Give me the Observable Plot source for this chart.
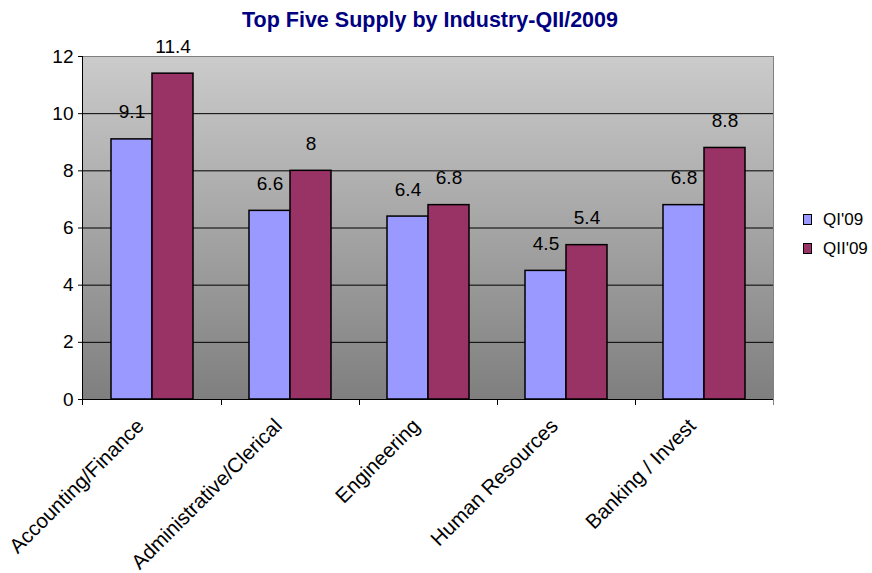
<!DOCTYPE html>
<html><head><meta charset="utf-8">
<script src="https://cdn.jsdelivr.net/npm/d3@7"></script>
<script src="https://cdn.jsdelivr.net/npm/@observablehq/plot@0.6"></script>
<style>
body{margin:0;background:#fff;font-family:"Liberation Sans",Arial,sans-serif;}
#wrap{position:relative;width:872px;height:573px;overflow:hidden;}
#wrap svg{position:absolute;left:0;top:0;}
#title{position:absolute;top:8px;left:0;width:860px;text-align:center;font-weight:bold;font-size:21.5px;line-height:24px;color:#000080;z-index:2;}
#legend{position:absolute;left:803px;top:205px;font-size:17px;z-index:2;}
#legend .row{display:flex;align-items:center;height:29px;}
#legend .sw{width:7px;height:9px;border:1px solid #000;margin-right:11px;}
</style></head><body>
<div id="wrap"><div id="title">Top Five Supply by Industry-QII/2009</div><div id="legend"></div></div>
<script>
const categories = ["Accounting/Finance","Administrative/Clerical","Engineering","Human Resources","Banking / Invest"];
const series = ["QI'09","QII'09"];
const q1Values = [9.1, 6.6, 6.4, 4.5, 6.8];
const q2Values = [11.4, 8, 6.8, 5.4, 8.8];
const yTicks = [0, 2, 4, 6, 8, 10, 12];
const gridTicks = [2, 4, 6, 8, 10];
const colors = ["#9999ff", "#993366"];

const data = categories.flatMap((c, i) => [
  {cat: c, series: series[0], value: q1Values[i]},
  {cat: c, series: series[1], value: q2Values[i]}
]);

const W = 872, H = 573, mT = 56, mB = 174, mL = 82, mR = 99;

const chart = Plot.plot({
  width: W, height: H, marginTop: mT, marginBottom: mB, marginLeft: mL, marginRight: mR,
  style: {fontFamily: "'Liberation Sans', Arial, sans-serif", background: "transparent", overflow: "visible", color: "#000"},
  fx: {domain: categories, padding: 0, label: null},
  x: {domain: series, paddingInner: 0, paddingOuter: 0.68, axis: null},
  y: {domain: [0, 12], label: null},
  color: {domain: series, range: colors},
  marks: [
    Plot.ruleY(gridTicks, {stroke: "#000", strokeWidth: 1}),
    Plot.ruleY([12], {stroke: "#808080", strokeWidth: 1}),
    Plot.barY(data, {fx: "cat", x: "series", y: "value", fill: "series", stroke: "#000", strokeWidth: 1.5}),
    Plot.text(data, {fx: "cat", x: "series", y: "value", text: d => String(d.value), dy: -27, fontSize: 19, fill: "#000"}),
    Plot.ruleY([0], {stroke: "#000", strokeWidth: 1}),
    Plot.axisY({ticks: yTicks, tickSize: 5, tickPadding: 5, fontSize: 19, label: null}),
    Plot.axisFx({anchor: "bottom", tickSize: 0, tickRotate: -45, tickPadding: 23, dx: -12, fontSize: 20.5, label: null})
  ]
});

// Background gradient of plot area
const ns = "http://www.w3.org/2000/svg";
const defs = document.createElementNS(ns, "defs");
defs.innerHTML = '<linearGradient id="bg" x1="0" y1="0" x2="0" y2="1"><stop offset="0" stop-color="#cbcbcb"/><stop offset="1" stop-color="#7f7f7f"/></linearGradient>';
const bg = document.createElementNS(ns, "rect");
bg.setAttribute("x", mL); bg.setAttribute("y", mT);
bg.setAttribute("width", W - mL - mR); bg.setAttribute("height", H - mT - mB);
bg.setAttribute("fill", "url(#bg)");
const firstG = chart.querySelector("g");
chart.insertBefore(defs, firstG);
chart.insertBefore(bg, firstG);

// Axis lines, border and category boundary ticks
const fx = chart.scale("fx");
const y0 = H - mB;
const g = d3.select(chart).append("g").attr("stroke", "#000").attr("stroke-width", 1);
g.append("line").attr("x1", mL + 0.5).attr("x2", mL + 0.5).attr("y1", mT).attr("y2", y0 + 6);
d3.select(chart).append("line").attr("stroke", "#808080").attr("x1", W - mR + 0.5).attr("x2", W - mR + 0.5).attr("y1", mT).attr("y2", y0 + 6);
categories.forEach((c, i) => {
  const xb = fx.apply(c) + fx.bandwidth;
  if (i < categories.length - 1) g.append("line").attr("x1", xb + 0.5).attr("x2", xb + 0.5).attr("y1", y0).attr("y2", y0 + 6);
});

document.getElementById("wrap").appendChild(chart);

// Legend
const legend = document.getElementById("legend");
series.forEach((s, i) => {
  const row = document.createElement("div"); row.className = "row";
  const sw = document.createElement("div"); sw.className = "sw"; sw.style.background = colors[i];
  const t = document.createElement("span"); t.textContent = s;
  row.appendChild(sw); row.appendChild(t); legend.appendChild(row);
});
</script>
</body></html>
